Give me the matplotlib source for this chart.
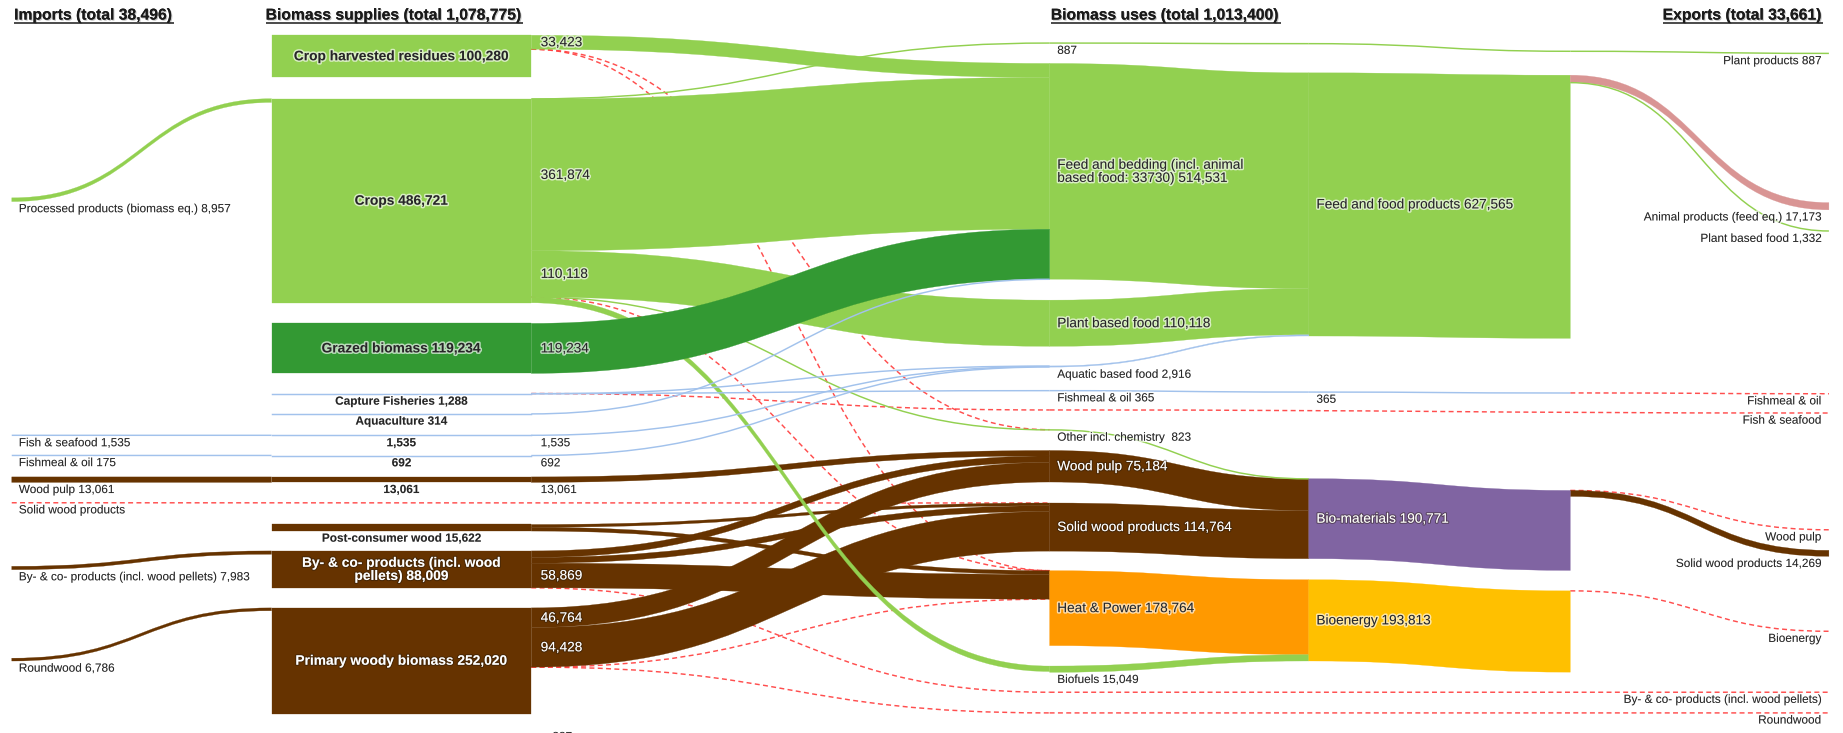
import matplotlib
matplotlib.use("Agg")
import matplotlib.pyplot as plt
from matplotlib.path import Path
from matplotlib.patches import PathPatch, Rectangle
import matplotlib.patheffects as pe

plt.rcParams['font.family'] = ['Liberation Sans', 'DejaVu Sans']

# ---------------------------------------------------------------- DATA
titles = ["Imports (total 38,496)", "Biomass supplies (total 1,078,775)",
          "Biomass uses (total 1,013,400)", "Exports (total 33,661)"]

import_keys = ["imp_proc", "imp_fish", "imp_fmeal", "imp_pulp", "imp_solid", "imp_byco", "imp_round"]
import_labels = ["Processed products (biomass eq.) 8,957", "Fish & seafood 1,535", "Fishmeal & oil 175",
                 "Wood pulp 13,061", "Solid wood products",
                 "By- & co- products (incl. wood pellets) 7,983", "Roundwood 6,786"]
import_values = [8957, 1535, 175, 13061, 0, 7983, 6786]

supply_keys = ["residues", "crops", "grazed", "capture", "aqua", "fish", "fmeal", "pulp",
               "postcons", "byco", "primary"]
supply_labels = ["Crop harvested residues 100,280", "Crops 486,721", "Grazed biomass 119,234",
                 "Capture Fisheries 1,288", "Aquaculture 314", "1,535", "692", "13,061",
                 "Post-consumer wood 15,622", "By- & co- products (incl. wood\npellets) 88,009",
                 "Primary woody biomass 252,020"]
supply_values = [100280, 486721, 119234, 1288, 314, 1535, 692, 13061, 15622, 88009, 252020]

use_keys = ["u887", "feedbed", "plantfood", "aquatic", "fmeal_use", "other", "pulp_use",
            "solid_use", "hp", "biofuels"]
use_labels = ["887", "Feed and bedding (incl. animal\nbased food: 33730) 514,531",
              "Plant based food 110,118", "Aquatic based food 2,916", "Fishmeal & oil 365",
              "Other incl. chemistry  823", "Wood pulp 75,184", "Solid wood products 114,764",
              "Heat & Power 178,764", "Biofuels 15,049"]
use_values = [887, 514531, 110118, 2916, 365, 823, 75184, 114764, 178764, 15049]

sector_keys = ["s887", "feedfood", "s365", "biomat", "bioenergy"]
sector_labels = ["", "Feed and food products 627,565", "365", "Bio-materials 190,771",
                 "Bioenergy 193,813"]
sector_values = [887, 627565, 365, 190771, 193813]

export_keys = ["e_plant", "e_animal", "e_plantfood", "e_fmeal", "e_fish", "e_pulp", "e_solid",
               "e_bioen", "e_byco", "e_round"]
export_labels = ["Plant products 887", "Animal products (feed eq.) 17,173", "Plant based food 1,332",
                 "Fishmeal & oil", "Fish & seafood", "Wood pulp", "Solid wood products 14,269",
                 "Bioenergy", "By- & co- products (incl. wood pellets)", "Roundwood"]
export_values = [887, 17173, 1332, 0, 0, 0, 14269, 0, 0, 0]

# flows: (source, target, value); value 0 = no data (dashed)
flows = [
    ("imp_proc", "crops", 8957), ("imp_fish", "fish", 1535), ("imp_fmeal", "fmeal", 175),
    ("imp_pulp", "pulp", 13061), ("imp_byco", "byco", 7983), ("imp_round", "primary", 6786),
    ("imp_solid", "solid_use", 0),
    ("residues", "feedbed", 33423), ("crops", "u887", 887), ("crops", "feedbed", 361874),
    ("grazed", "feedbed", 119234), ("aqua", "feedbed", 314), ("crops", "plantfood", 110118),
    ("residues", "other", 0), ("residues", "hp", 0), ("crops", "hp", 0),
    ("crops", "other", 823), ("crops", "biofuels", 13019),
    ("capture", "p_fish", 0), ("capture", "fmeal_use", 365), ("capture", "aquatic", 689),
    ("fish", "aquatic", 1535), ("fmeal", "aquatic", 692), ("pulp", "pulp_use", 13061),
    ("postcons", "solid_use", 6555), ("postcons", "hp", 9067),
    ("byco", "pulp_use", 15359), ("byco", "solid_use", 13781), ("byco", "hp", 58869),
    ("byco", "p_byco", 0),
    ("primary", "pulp_use", 46764), ("primary", "solid_use", 94428), ("primary", "hp", 0),
    ("primary", "p_round", 0),
    ("u887", "s887", 887), ("feedbed", "feedfood", 514531), ("plantfood", "feedfood", 110118),
    ("aquatic", "feedfood", 2916), ("fmeal_use", "s365", 365), ("other", "biomat", 823),
    ("pulp_use", "biomat", 75184), ("solid_use", "biomat", 114764),
    ("hp", "bioenergy", 178764), ("biofuels", "bioenergy", 15049),
    ("p_fish", "e_fish", 0), ("p_byco", "e_byco", 0), ("p_round", "e_round", 0),
    ("s887", "t887", 887), ("feedfood", "feedfood6", 627565), ("s365", "t365", 365),
    ("biomat", "biomat6", 190771), ("bioenergy", "bioenergy6", 193813),
    ("t887", "e_plant", 887), ("feedfood6", "e_animal", 17173), ("feedfood6", "e_plantfood", 1332),
    ("t365", "e_fmeal", 0), ("biomat6", "e_pulp", 0), ("biomat6", "e_solid", 14269),
    ("bioenergy6", "e_bioen", 0),
]
labelled_flows = [("residues", "feedbed"), ("crops", "feedbed"), ("crops", "plantfood"),
                  ("grazed", "feedbed"), ("fish", "aquatic"), ("fmeal", "aquatic"),
                  ("pulp", "pulp_use"), ("byco", "hp"), ("primary", "pulp_use"),
                  ("primary", "solid_use")]

# ---------------------------------------------------------------- LAYOUT / STYLE
W, H = 1568, 624
COLX = [10, 231, 452, 672, 893, 1113.5, 1336, 1556]
K = 0.357 / 1000.0          # vertical px per unit

TOP = {
    "imp_proc": 168.4, "imp_fish": 370.3, "imp_fmeal": 387.7, "imp_pulp": 406.0,
    "imp_solid": 428.0, "imp_byco": 482.1, "imp_round": 560.3,
    "residues": 30.0, "crops": 84.0, "grazed": 275.3, "capture": 335.0, "aqua": 352.3,
    "fish": 370.3, "fmeal": 387.7, "pulp": 406.0, "postcons": 446.5, "byco": 469.0,
    "primary": 517.5,
    "u887": 36.5, "feedbed": 54.0, "plantfood": 255.5, "aquatic": 311.5, "fmeal_use": 332.5,
    "p_fish": 349.0, "other": 365.8, "pulp_use": 383.5, "solid_use": 428.2, "hp": 485.8,
    "biofuels": 567.0, "p_byco": 589.3, "p_round": 606.9,
    "s887": 37.0, "feedfood": 62.0, "s365": 333.7, "biomat": 407.5, "bioenergy": 493.5,
    "t887": 43.5, "feedfood6": 64.0, "t365": 334.5, "biomat6": 417.5, "bioenergy6": 503.0,
    "e_plant": 45.3, "e_animal": 172.5, "e_plantfood": 196.4, "e_fmeal": 335.2, "e_fish": 351.6,
    "e_pulp": 451.0, "e_solid": 468.5, "e_bioen": 537.4, "e_byco": 589.3, "e_round": 606.9,
}
IN_COL, OUT_COL = {}, {}
for k in import_keys:
    IN_COL[k] = OUT_COL[k] = 0
for k in supply_keys:
    IN_COL[k], OUT_COL[k] = 1, 2
for k in use_keys + ["p_fish", "p_byco", "p_round"]:
    IN_COL[k] = OUT_COL[k] = 4
for k in sector_keys:
    IN_COL[k] = OUT_COL[k] = 5
for k in ["t887", "feedfood6", "t365", "biomat6", "bioenergy6"]:
    IN_COL[k] = OUT_COL[k] = 6
for k in export_keys:
    IN_COL[k] = OUT_COL[k] = 7

GREEN, DKGREEN, BLUE, BROWN = '#92d050', '#339933', '#a2c2ec', '#663300'
ORANGE, PURPLE, GOLD, PINK, RED = '#ff9900', '#8064a2', '#ffc000', '#d99594', '#ff3b3b'
DARK = '#262626'
NODE_COLOR = {}
for k in ["imp_proc", "residues", "crops", "u887", "feedbed", "plantfood", "other", "biofuels",
          "s887", "feedfood", "t887", "feedfood6", "e_plant", "e_plantfood"]:
    NODE_COLOR[k] = GREEN
NODE_COLOR["grazed"] = DKGREEN
for k in ["imp_fish", "imp_fmeal", "capture", "aqua", "fish", "fmeal", "aquatic", "fmeal_use",
          "s365", "t365", "e_fmeal", "e_fish"]:
    NODE_COLOR[k] = BLUE
for k in ["imp_pulp", "imp_solid", "imp_byco", "imp_round", "pulp", "postcons", "byco", "primary",
          "pulp_use", "solid_use", "e_solid", "e_pulp", "e_byco", "e_round", "p_byco", "p_round",
          "p_fish"]:
    NODE_COLOR[k] = BROWN
NODE_COLOR["hp"] = ORANGE
NODE_COLOR["biomat"] = NODE_COLOR["biomat6"] = PURPLE
NODE_COLOR["bioenergy"] = NODE_COLOR["bioenergy6"] = GOLD
NODE_COLOR["e_bioen"] = GOLD
NODE_COLOR["e_animal"] = PINK
ZORDER = {BROWN: 2, GREEN: 3, ORANGE: 3, PURPLE: 3, GOLD: 3, PINK: 3, DKGREEN: 4, BLUE: 5}

HALO_DARK = [pe.withStroke(linewidth=2.2, foreground=(1, 1, 1, 0.65))]
HALO_WHITE = [pe.withStroke(linewidth=1.6, foreground=(0.15, 0.1, 0.05, 0.45))]

# ---------------------------------------------------------------- FIGURE
fig = plt.figure(figsize=(18.43, 7.33), dpi=100)
ax = fig.add_axes([0, 0, 1, 1])
ax.set_xlim(0, W)
ax.set_ylim(H, 0)
ax.axis('off')

def curve_path(x0, y0, x1, y1):
    xm = (x0 + x1) / 2.0
    return Path([(x0, y0), (xm, y0), (xm, y1), (x1, y1)],
                [Path.MOVETO, Path.CURVE4, Path.CURVE4, Path.CURVE4])

def band(x0, y0, x1, y1, th, color, z):
    xm = (x0 + x1) / 2.0
    verts = [(x0, y0), (xm, y0), (xm, y1), (x1, y1), (x1, y1 + th),
             (xm, y1 + th), (xm, y0 + th), (x0, y0 + th), (x0, y0)]
    codes = [Path.MOVETO, Path.CURVE4, Path.CURVE4, Path.CURVE4, Path.LINETO,
             Path.CURVE4, Path.CURVE4, Path.CURVE4, Path.CLOSEPOLY]
    ax.add_patch(PathPatch(Path(verts, codes), facecolor=color, edgecolor=color,
                           lw=0.2, zorder=z))

def thin(x0, y0, x1, y1, color, z, dashed=False):
    ls = (0, (3.4, 2.3)) if dashed else '-'
    ax.add_patch(PathPatch(curve_path(x0, y0, x1, y1), fill=False, edgecolor=color,
                           lw=1.05, linestyle=ls, zorder=z, alpha=0.9 if dashed else 1.0,
                           capstyle='butt'))

def label(x, y, s, size, color=DARK, ha='left', weight='normal', clip=False):
    fx = HALO_WHITE if color == 'white' else HALO_DARK
    t = ax.text(x, y, s, fontsize=size, color=color, ha=ha, va='center', weight=weight,
                multialignment='center' if ha == 'center' else ha, zorder=10,
                path_effects=fx, linespacing=0.92)
    if clip:
        t.set_clip_on(True)
    return t

def lab_y(top, th):
    return top + th / 2.0 if th > 8 else top + th + 6.5

# ---- supply boxes
for k, s, v in zip(supply_keys, supply_labels, supply_values):
    th = v * K
    top = TOP[k]
    c = NODE_COLOR[k]
    if th < 1.0:
        ax.plot([COLX[1], COLX[2]], [top + th / 2] * 2, color=c, lw=1.05, zorder=ZORDER[c])
    else:
        ax.add_patch(Rectangle((COLX[1], top), COLX[2] - COLX[1], th, facecolor=c,
                               edgecolor=c, lw=0.2, zorder=ZORDER[c]))
    big = th > 8
    col = 'white' if (big and c == BROWN) else DARK
    label((COLX[1] + COLX[2]) / 2, lab_y(top, th), s, 9.9 if big else 8.5, col,
          ha='center', weight='bold')

# ---- flows
out_cur = dict(TOP)
in_cur = dict(TOP)
seg = {}
for s, t, v in flows:
    th = v * K
    y0 = out_cur[s]; out_cur[s] += th
    y1 = in_cur[t]; in_cur[t] += th
    x0 = COLX[OUT_COL[s]]; x1 = COLX[IN_COL[t]]
    seg[(s, t)] = (x0, y0, x1, y1, th)
    if v == 0:
        thin(x0, y0, x1, y1, RED, 1, dashed=True)
        continue
    c = NODE_COLOR[t] if t in export_keys else NODE_COLOR[s]
    z = ZORDER[c]
    if th < 1.0:
        thin(x0, y0 + th / 2, x1, y1 + th / 2, c, z)
    else:
        band(x0, y0, x1, y1, th, c, z)

# ---- value labels next to supplies
for s, t in labelled_flows:
    x0, y0, x1, y1, th = seg[(s, t)]
    v = th / K
    big = th > 8
    c = NODE_COLOR[s]
    col = 'white' if (big and c == BROWN) else DARK
    label(x0 + 8, lab_y(y0, th), f"{round(v):,}", 9.8 if big else 8.5, col)
# partially visible label at the bottom edge (as in the original, cut by the frame)
label(COLX[2] + 18, 627.5, "887", 8.5, clip=True)

# ---- import labels
for k, s, v in zip(import_keys, import_labels, import_values):
    label(COLX[0] + 6, lab_y(TOP[k], min(v * K, 8)), s, 8.5)

# ---- use labels
for k, s, v in zip(use_keys, use_labels, use_values):
    th = v * K
    big = th > 8
    col = 'white' if (big and NODE_COLOR[k] == BROWN) else DARK
    label(COLX[4] + 6.5, lab_y(TOP[k], th), s, 9.8 if big else 8.5, col)

# ---- sector labels
for k, s, v in zip(sector_keys, sector_labels, sector_values):
    if not s:
        continue
    th = v * K
    big = th > 8
    col = 'white' if (big and NODE_COLOR[k] == PURPLE) else DARK
    label(COLX[5] + 6.5, lab_y(TOP[k], th), s, 9.8 if big else 8.5, col)

# ---- export labels
for k, s, v in zip(export_keys, export_labels, export_values):
    label(COLX[7] - 6.5, lab_y(TOP[k], min(v * K, 8)), s, 8.5, ha='right')

# ---- titles (bold, underlined)
title_pos = [(COLX[0] + 2, 'left'), (COLX[1] - 5, 'left'), (COLX[4] + 1, 'left'),
             (COLX[7] - 5, 'right')]
shadow = [pe.withSimplePatchShadow(offset=(0.8, -0.8), shadow_rgbFace='#888888', alpha=0.5),
          pe.Normal()]
tt = []
for s, (x, ha) in zip(titles, title_pos):
    tt.append(ax.text(x, 12.8, s, fontsize=11.3, weight='bold', color='#1a1a1a', ha=ha,
                      va='center', path_effects=shadow, zorder=10))
fig.canvas.draw()
r = fig.canvas.get_renderer()
inv = ax.transData.inverted()
for t in tt:
    bb = t.get_window_extent(r)
    (xa, _), (xb, _) = inv.transform([(bb.x0, bb.y0), (bb.x1, bb.y0)])
    ax.plot([xa, xb], [19.3, 19.3], color='#1a1a1a', lw=1.1, zorder=10,
            solid_capstyle='butt')

fig.savefig("out.png", dpi=100)
